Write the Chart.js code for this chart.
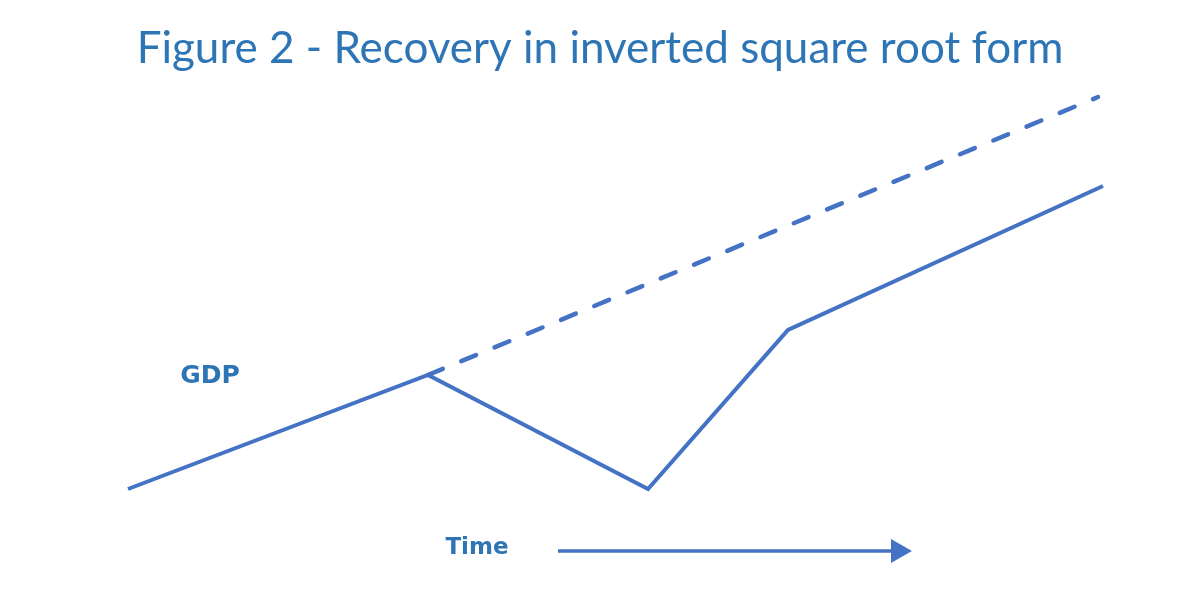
<!DOCTYPE html>
<html>
<head>
<meta charset="utf-8">
<script src="https://cdn.jsdelivr.net/npm/chart.js@4"></script>
<style>
  html, body { margin: 0; padding: 0; background: #fff; }
  .wrap { width: 1200px; height: 597px; position: relative; }
</style>
</head>
<body>
<div class="wrap"><canvas id="chart"></canvas></div>
<script>
// schematic values: time periods and GDP index
const gdpPath = [
  { x: 0, y: 100 },
  { x: 6.0, y: 111.4 },
  { x: 10.4, y: 100 },
  { x: 13.2, y: 115.9 },
  { x: 19.5, y: 130.3 },
];
const trendPath = [
  { x: 6.0, y: 111.4 },
  { x: 19.4, y: 139.2 },
];
const timeArrow = [
  { x: 8.6, y: 93.8 },
  { x: 15.4, y: 93.8 },
];

const lineBlue = "#4472C4";
const textBlue = "#2E75B6";

// draws the "GDP" and "Time" labels at positions on the scales
const labelPlugin = {
  id: "labels",
  afterDatasetsDraw: function (chart) {
    var ctx = chart.ctx;
    var xs = chart.scales.x;
    var ys = chart.scales.y;
    ctx.save();
    ctx.fillStyle = textBlue;
    ctx.textAlign = "center";
    ctx.textBaseline = "middle";
    ctx.font = "bold 25px 'DejaVu Sans'";
    ctx.fillText("GDP", xs.getPixelForValue(1.64), ys.getPixelForValue(111.3));
    ctx.font = "bold 23px 'DejaVu Sans'";
    ctx.fillText("Time", xs.getPixelForValue(6.98), ys.getPixelForValue(94.1));
    ctx.restore();
  },
};

var ctx = document.getElementById("chart").getContext("2d");
var myChart = new Chart(ctx, {
  type: "line",
  data: {
    datasets: [
      {
        label: "GDP",
        data: gdpPath,
        borderColor: lineBlue,
        borderWidth: 4,
        borderJoinStyle: "miter",
        pointRadius: 0,
        tension: 0,
      },
      {
        label: "Trend",
        data: trendPath,
        borderColor: lineBlue,
        borderWidth: 4.5,
        borderDash: [16, 20],
        borderCapStyle: "round",
        pointRadius: 0,
        tension: 0,
      },
      {
        label: "Time",
        data: timeArrow,
        borderColor: lineBlue,
        borderWidth: 3.5,
        pointRadius: [0, 14],
        pointStyle: "triangle",
        pointRotation: 90,
        pointBackgroundColor: lineBlue,
        pointBorderWidth: 0,
        tension: 0,
      },
    ],
  },
  options: {
    responsive: true,
    maintainAspectRatio: false,
    animation: false,
    layout: { padding: 20 },
    plugins: {
      legend: { display: false },
      tooltip: { enabled: false },
      title: {
        display: true,
        text: "Figure 2 - Recovery in inverted square root form",
        color: textBlue,
        font: { family: "Lato", size: 44, weight: "normal", lineHeight: 1.2 },
        padding: { top: 2, bottom: 0 },
      },
    },
    scales: {
      x: { type: "linear", display: false, min: -2.16, max: 21.04 },
      y: { type: "linear", display: false, min: 91.2, max: 141.42 },
    },
  },
  plugins: [labelPlugin],
});
</script>
</body>
</html>
